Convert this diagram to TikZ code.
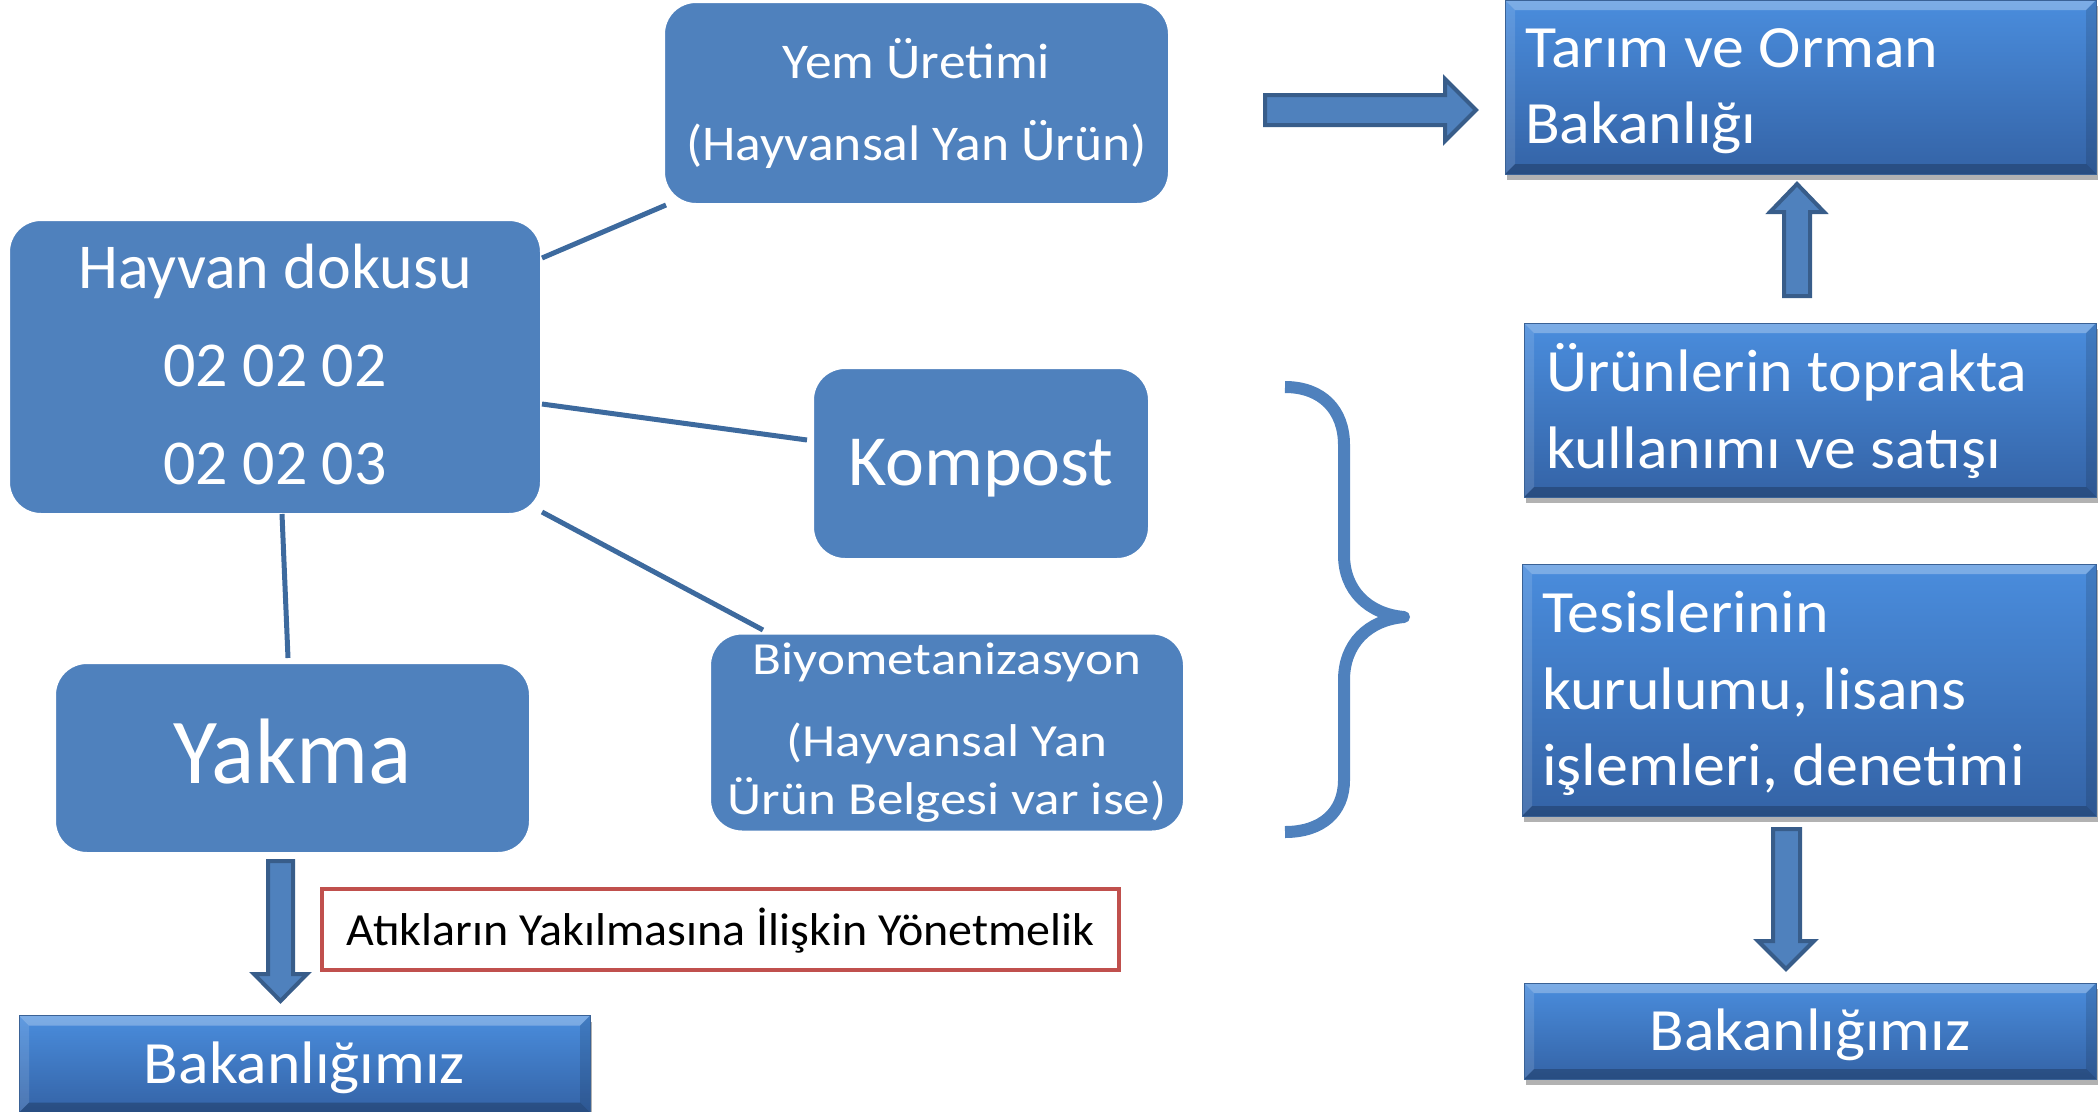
\documentclass[tikz,border=0pt]{standalone}
\usepackage{fontspec}
\setmainfont{Carlito}
\newfontfamily\fwide[FakeStretch=1.065]{Carlito}
\newfontfamily\fyem[FakeStretch=1.07]{Carlito}
\newfontfamily\fbiyo[FakeStretch=1.155]{Carlito}
\newfontfamily\fkomp[FakeStretch=1.025]{Carlito}
\newfontfamily\fyak[FakeStretch=0.97]{Carlito}
\newfontfamily\fred[FakeStretch=1.043]{Carlito}
\newfontfamily\fbak[FakeStretch=1.06]{Carlito}
\usetikzlibrary{shadows,calc}
\definecolor{boxblue}{HTML}{4F81BD}
\definecolor{linkblue}{HTML}{3D6A9E}
\definecolor{arrowedge}{HTML}{385D8A}
\definecolor{gtop}{HTML}{4A8DDD}
\definecolor{gbot}{HTML}{3463A6}
\definecolor{gedge}{HTML}{3A6296}
\definecolor{redline}{HTML}{C0504D}
\newcommand\bevelfx{%
  \fill[white,opacity=.28] (path picture bounding box.north west) -- (path picture bounding box.north east) -- ($(path picture bounding box.north east)+(-10,10)$) -- ($(path picture bounding box.north west)+(10,10)$) -- cycle;
  \fill[white,opacity=.12] (path picture bounding box.north west) -- ($(path picture bounding box.north west)+(10,10)$) -- ($(path picture bounding box.south west)+(10,-10)$) -- (path picture bounding box.south west) -- cycle;
  \fill[black,opacity=.12] (path picture bounding box.north east) -- (path picture bounding box.south east) -- ($(path picture bounding box.south east)+(-10,-10)$) -- ($(path picture bounding box.north east)+(-10,10)$) -- cycle;
  \fill[black,opacity=.22] (path picture bounding box.south west) -- (path picture bounding box.south east) -- ($(path picture bounding box.south east)+(-10,-10)$) -- ($(path picture bounding box.south west)+(10,-10)$) -- cycle;
}
\newcommand\fs[2]{\fontsize{#1}{#2}\selectfont}
% taller strut for the first line: pushes the text block down by #1/2
\newcommand\tstrut[1]{\rule[-.3\baselineskip]{0pt}{\dimexpr\baselineskip+#1\relax}}
\begin{document}
\begin{tikzpicture}[x=1pt,y=-1pt,
  rbox/.style={draw=white, line width=2pt, fill=boxblue, rounded corners=32pt, text=white, align=center, inner sep=0pt},
  gbox/.style={draw=gedge, line width=1pt, top color=gtop, bottom color=gbot, text=white, inner sep=0pt,
     drop shadow={shadow xshift=2pt, shadow yshift=-6pt, fill=black, opacity=0.3},
     path picture={\bevelfx}},
  link/.style={draw=linkblue, line width=5pt},
  barrow/.style={fill=boxblue, draw=arrowedge, line width=4pt, line join=miter},
  bracestyle/.style={draw=boxblue, line width=12pt, line join=round},
  redbox/.style={draw=redline, line width=4pt, fill=white, inner sep=0pt, align=center}
]
\useasboundingbox (0,0) rectangle (2098,1111);

% rounded boxes
\node[rbox, minimum width=532pt, minimum height=290pt, font=\fs{64}{98}] (hay) at (275,367)
  {\strut Hayvan dokusu\\\strut 02 02 02\\\strut 02 02 03};
\node[rbox, minimum width=505pt, minimum height=202pt, font=\fyem\fs{50}{82}] (yem) at (916.5,103)
  {\strut Yem Üretimi\\\strut (Hayvansal Yan Ürün)};
\node[rbox, minimum width=336pt, minimum height=191pt, font=\fkomp\fs{72}{112}] (komp) at (981,463.5)
  {\strut Kompost};
\node[rbox, minimum width=474pt, minimum height=193pt, font=\fbiyo\fs{46}{58}] (biyo) at (947,732.5)
  {\strut Biyometanizasyon\\[24pt]\strut (Hayvansal Yan\\\strut Ürün Belgesi var ise)};
\node[rbox, minimum width=475pt, minimum height=190pt, font=\fyak\fs{93}{125}] (yakma) at (292.5,758)
  {\strut Yakma};

% gradient boxes
\node[gbox, minimum width=591pt, minimum height=174pt, text width=551pt, align=flush left, font=\fwide\fs{60}{76}] (tarim) at (1800.5,87)
  {\tstrut{6pt}Tarım ve Orman\\\strut Bakanlığı};
\node[gbox, minimum width=572pt, minimum height=174pt, text width=528pt, align=flush left, font=\fwide\fs{60}{77}] (urun) at (1810,410)
  {\tstrut{10pt}Ürünlerin toprakta\\\strut kullanımı ve satışı};
\node[gbox, minimum width=574pt, minimum height=252pt, text width=534pt, align=flush left, font=\fwide\fs{60}{76.5}] (tesis) at (1809,690)
  {\tstrut{8pt}Tesislerinin\\\strut kurulumu, lisans\\\strut işlemleri, denetimi};
\node[gbox, minimum width=572pt, minimum height=96pt, align=center, font=\fbak\fs{60}{95}] (bakR) at (1810,1031)
  {\strut Bakanlığımız};
\node[gbox, minimum width=571pt, minimum height=96pt, align=center, font=\fbak\fs{60}{97}] (bakL) at (304.5,1064)
  {\strut Bakanlığımız};

% regulation box
\node[redbox, minimum width=797pt, minimum height=81pt, font=\fred\fs{46}{78}] (yonet) at (720.5,929.5)
  {\strut Atıkların Yakılmasına İlişkin Yönetmelik};

% connectors
\coordinate (c1) at (542,258); \coordinate (c2) at (666,205);
\coordinate (c3) at (542,404); \coordinate (c4) at (807,440);
\coordinate (c5) at (542,512); \coordinate (c6) at (763,630);
\coordinate (c7) at (282,514); \coordinate (c8) at (288,658);
\draw[link] (c1) -- (c2);
\draw[link] (c3) -- (c4);
\draw[link] (c5) -- (c6);
\draw[link] (c7) -- (c8);

% block arrows
\draw[barrow] (1265,95) -- (1445,95) -- (1445,79) -- (1476,110) -- (1445,141) -- (1445,125) -- (1265,125) -- cycle;
\draw[barrow] (1784,296) -- (1784,212) -- (1770,212) -- (1797,184) -- (1824,212) -- (1810,212) -- (1810,296) -- cycle;
\draw[barrow] (1773,829) -- (1800,829) -- (1800,941) -- (1814,941) -- (1786,969) -- (1758,941) -- (1773,941) -- cycle;
\draw[barrow] (268,861) -- (293,861) -- (293,974) -- (307,974) -- (280.5,1001) -- (254,974) -- (268,974) -- cycle;

% brace
\draw[bracestyle] (1285,387) .. controls (1322,387) and (1344,410) .. (1344,445) -- (1344,555)
  .. controls (1344,590) and (1368,614) .. (1404,617)
  .. controls (1368,620) and (1344,644) .. (1344,680) -- (1344,780)
  .. controls (1344,812) and (1322,832) .. (1285,832);
\end{tikzpicture}
\end{document}
